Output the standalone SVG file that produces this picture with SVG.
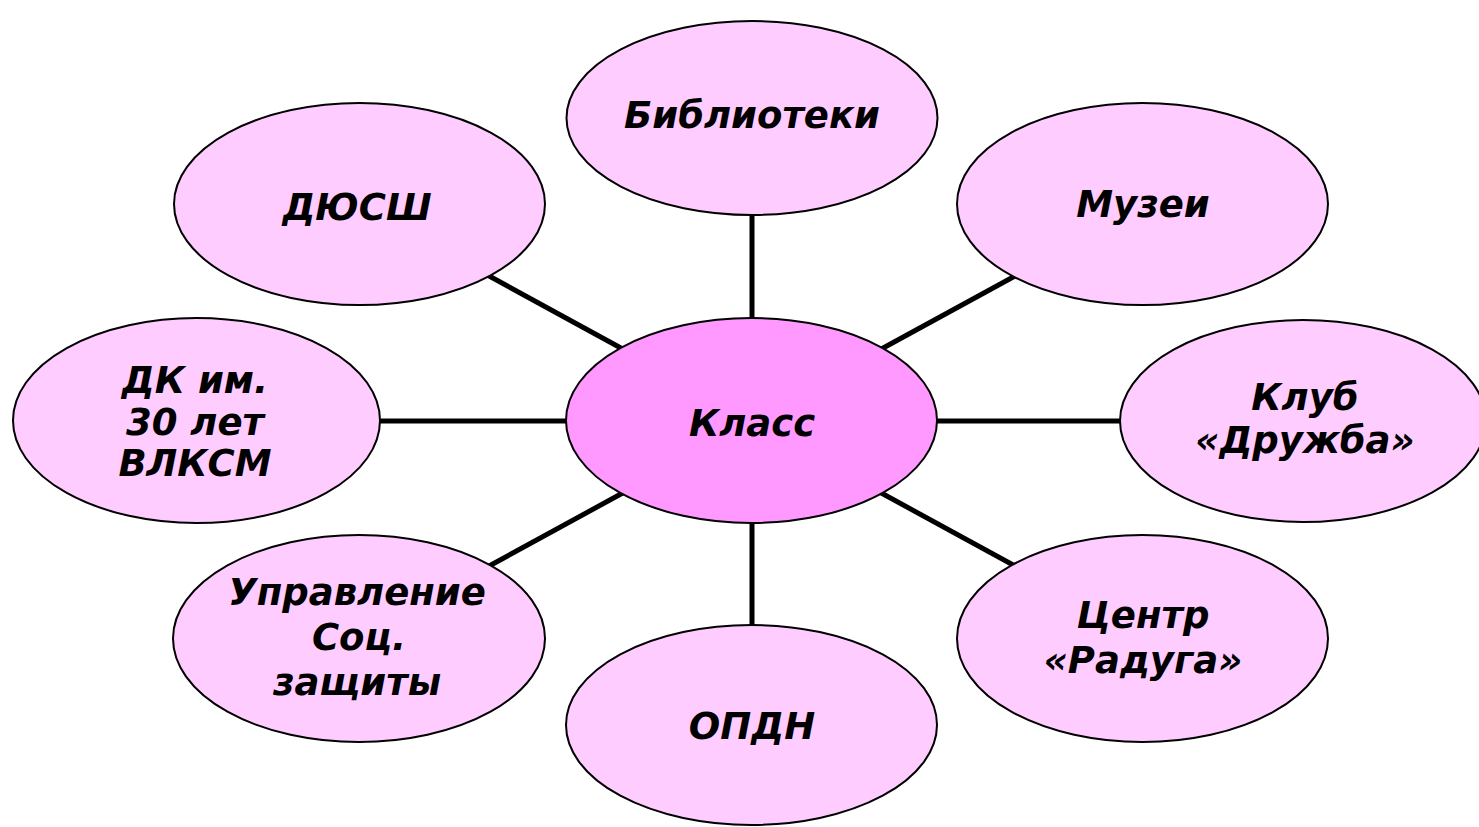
<svg xmlns="http://www.w3.org/2000/svg" width="1479" height="827" viewBox="0 0 1479 827">
<style>
.outer{fill:#FFCCFF;stroke:#000;stroke-width:2}
.center{fill:#FF99FF;stroke:#000;stroke-width:2}
.lbl{font-family:"DejaVu Sans","Verdana",sans-serif;font-weight:bold;font-style:italic;font-size:37px;fill:#000;text-anchor:middle}
.conn line{stroke:#000;stroke-width:5}
</style>
<rect width="1479" height="827" fill="#fff"/>
<g id="connectors" class="conn">
<line x1="752" y1="210" x2="752" y2="325"/>
<line x1="752" y1="515" x2="752" y2="632"/>
<line x1="375" y1="421" x2="572" y2="421"/>
<line x1="931" y1="421" x2="1128" y2="421"/>
<line x1="480" y1="271" x2="630" y2="353"/>
<line x1="1024" y1="271" x2="874" y2="353"/>
<line x1="630" y1="489" x2="480" y2="571"/>
<line x1="874" y1="489" x2="1024" y2="571"/>
</g>
<g id="n-biblioteki"><ellipse class="outer" cx="752" cy="118" rx="185.5" ry="97"/><text class="lbl" x="752" y="128">Библиотеки</text></g>
<g id="n-dyussh"><ellipse class="outer" cx="359.5" cy="204" rx="185.5" ry="101"/><text class="lbl" x="357" y="220">ДЮСШ</text></g>
<g id="n-muzei"><ellipse class="outer" cx="1142.5" cy="204" rx="185.5" ry="101"/><text class="lbl" x="1143" y="217">Музеи</text></g>
<g id="n-dk"><ellipse class="outer" cx="196.5" cy="420.5" rx="183.5" ry="102.5"/><text class="lbl" x="195" y="393">ДК им.</text><text class="lbl" x="195" y="435">30 лет</text><text class="lbl" x="195" y="476">ВЛКСМ</text></g>
<g id="n-klass"><ellipse class="center" cx="751.5" cy="420.5" rx="185.5" ry="102.5"/><text class="lbl" x="752" y="436">Класс</text></g>
<g id="n-klub"><ellipse class="outer" cx="1303" cy="421" rx="183" ry="101"/><text class="lbl" x="1305" y="410">Клуб</text><text class="lbl" x="1305" y="453">«Дружба»</text></g>
<g id="n-uprav"><ellipse class="outer" cx="359" cy="638.5" rx="186" ry="103.5"/><text class="lbl" x="357" y="605">Управление</text><text class="lbl" x="359" y="650">Соц.</text><text class="lbl" x="357" y="695">защиты</text></g>
<g id="n-centr"><ellipse class="outer" cx="1142.5" cy="638.5" rx="185.5" ry="103.5"/><text class="lbl" x="1143" y="628">Центр</text><text class="lbl" x="1143" y="673">«Радуга»</text></g>
<g id="n-opdn"><ellipse class="outer" cx="751.5" cy="725" rx="185.5" ry="100"/><text class="lbl" x="752" y="739">ОПДН</text></g>
</svg>
